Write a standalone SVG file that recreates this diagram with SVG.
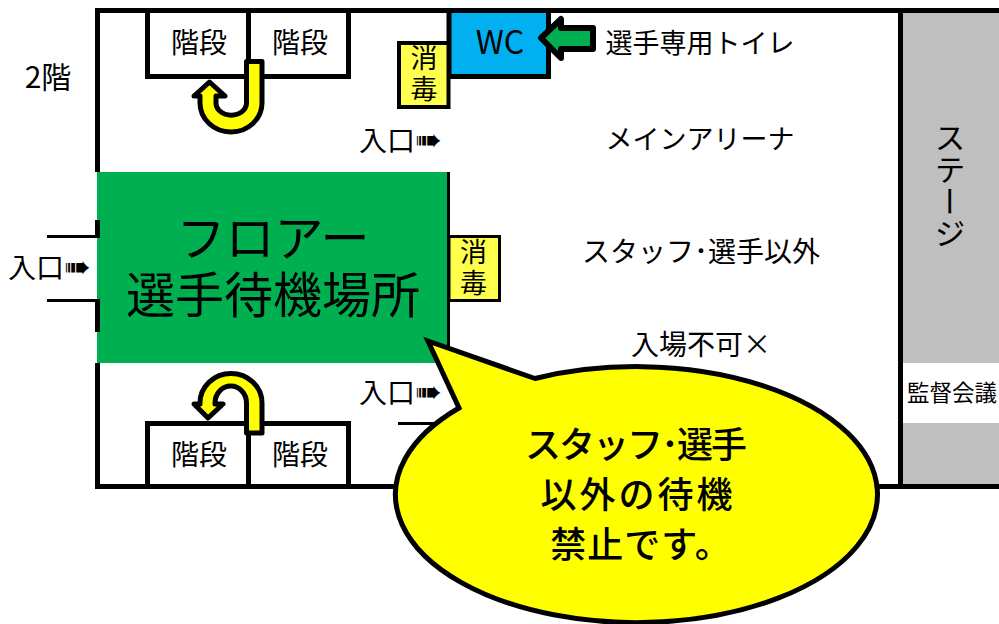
<svg xmlns="http://www.w3.org/2000/svg" width="999" height="624" viewBox="0 0 999 624">
<style>
text{font-family:"Noto Sans CJK JP","DejaVu Sans",sans-serif;fill:#000;text-anchor:middle}
.w{fill:none;stroke:#000;stroke-width:5}
.t{fill:none;stroke:#000;stroke-width:3}
.box{fill:#fff;stroke:#000;stroke-width:5}
.arrow{fill:#ff0;stroke:#000;stroke-width:5;stroke-linejoin:round}
.s{font-size:28px}
.n{font-size:27px}
.e{font-size:28px;text-anchor:start}
.e tspan{font-size:32px;font-family:"DejaVu Sans",sans-serif}
.l{font-size:49px}
.b{font-size:36px;font-weight:500}
.v{font-size:27px;writing-mode:vertical-rl;text-anchor:start;letter-spacing:4px}
</style>
<rect width="999" height="624" fill="#fff"/>
<g id="stage">
<rect x="901" y="11" width="98" height="475" fill="#bfbfbf"/>
<path class="w" d="M900.500 11V486"/>
<text x="950" y="122" style="writing-mode:vertical-rl;text-anchor:start;font-size:31px;letter-spacing:1px">ステージ</text>
</g>
<g id="meeting-room">
<rect x="903" y="363" width="96" height="60" fill="#fff"/>
<text x="952" y="401" style="font-size:22.500px">監督会議</text>
</g>
<g id="walls">
<path class="w" d="M97.500 172V10.500H999M97.500 363V486.500H999"/>
<path class="t" d="M398 423.500H440"/>
</g>
<g id="floor-area">
<rect x="97" y="172" width="350" height="191" fill="#00b050"/>
<text class="l"><tspan x="273" y="256">フロアー</tspan><tspan x="273" y="313">選手待機場所</tspan></text>
</g>
<g id="entrance-walls">
<path class="t" d="M47 236.500H97M47 300.500H97M448.500 172V363"/>
<path class="w" d="M97.500 220V238M97.500 299V332"/>
</g>
<g id="stairs-top">
<rect class="box" x="147.500" y="10.500" width="101" height="66"/>
<rect class="box" x="248.500" y="10.500" width="100" height="66"/>
<text class="s" x="199" y="53">階段</text>
<text class="s" x="300" y="53">階段</text>
</g>
<g id="stairs-bottom">
<rect class="box" x="147.500" y="423.500" width="101" height="63"/>
<rect class="box" x="248.500" y="423.500" width="100" height="63"/>
<text class="s" x="199" y="465">階段</text>
<text class="s" x="300" y="465">階段</text>
</g>
<g id="wc">
<rect x="449" y="10.500" width="99.500" height="66" fill="#00b0f0" stroke="#000" stroke-width="5"/>
<text x="500" y="54" style="font-size:32px">WC</text>
</g>
<g id="disinfect-top">
<rect x="399" y="43" width="49.500" height="64" fill="#ffff4d" stroke="#000" stroke-width="4"/>
<text class="v" x="424" y="44">消毒</text>
</g>
<g id="disinfect-floor">
<rect x="449" y="236.500" width="50.500" height="64" fill="#ffff4d" stroke="#000" stroke-width="3"/>
<text class="v" x="473.500" y="238">消毒</text>
</g>
<g id="connectors">
<path class="arrow" d="M246.500 61.500H262V103A31 29 0 0 1 200 103V96H194L209.500 82L225 96H216V103A15 12 0 0 0 246.500 103Z"/>
<path class="arrow" d="M246.500 433H262V403A31 29.500 0 0 0 200 403V404H194L208 418L223 404H215V403A15.700 17 0 0 1 246.500 403Z"/>
<path d="M541 38L561 19V28H593V49H561V58Z" fill="#00b050" stroke="#000" stroke-width="6" stroke-linejoin="round"/>
</g>
<g id="labels">
<text x="48" y="88" style="font-size:30px">2階</text>
<text class="n" x="700" y="53">選手専用トイレ</text>
<text class="n" x="700" y="149">メインアリーナ</text>
<text class="s" x="701" y="262">スタッフ･選手以外</text>
<text class="s" x="701" y="355">入場不可×</text>
<text class="e" x="359" y="151">入口<tspan>➠</tspan></text>
<text class="e" x="359" y="403">入口<tspan>➠</tspan></text>
<text class="e" x="8" y="278">入口<tspan>➠</tspan></text>
</g>
<g id="callout">
<path d="M428 341L535 378.500A241 128 0 1 1 459 408Z" fill="#ff0" stroke="#000" stroke-width="5" stroke-linejoin="miter"/>
<text class="b" x="635" y="458" style="letter-spacing:-2px">スタッフ･選手</text>
<text class="b" x="638" y="508" style="letter-spacing:3px">以外の待機</text>
<text class="b" x="641" y="558" style="letter-spacing:1px">禁止です。</text>
</g>
</svg>
